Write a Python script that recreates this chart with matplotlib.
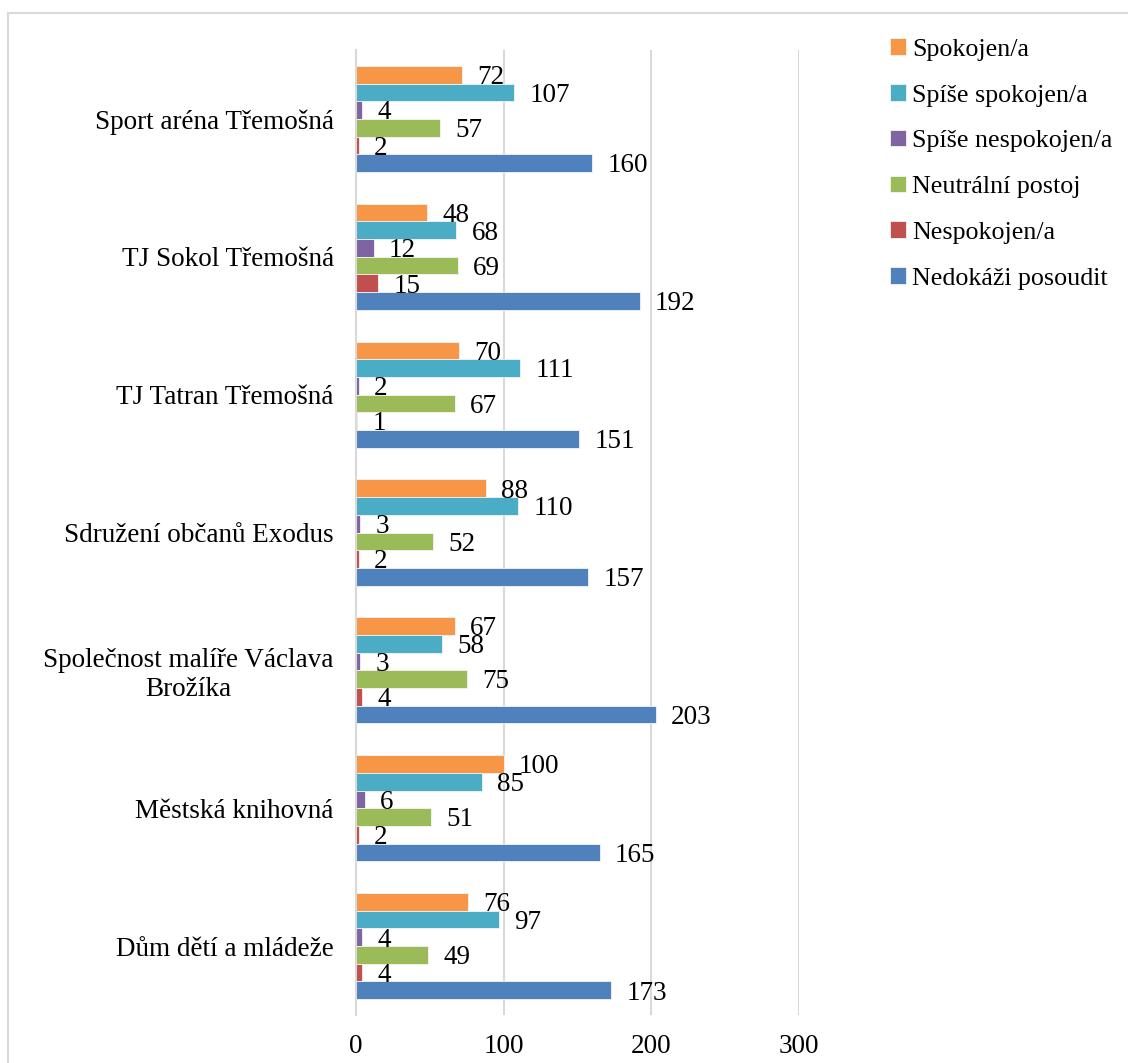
import matplotlib
matplotlib.use("Agg")
import matplotlib.pyplot as plt
import numpy as np
from matplotlib.patches import Rectangle

plt.rcParams['font.family'] = ['Liberation Serif', 'DejaVu Serif']

categories = ["Sport aréna Třemošná", "TJ Sokol Třemošná", "TJ Tatran Třemošná",
              "Sdružení občanů Exodus", "Společnost malíře Václava\nBrožíka",
              "Městská knihovná", "Dům dětí a mládeže"]
series_names = ["Spokojen/a", "Spíše spokojen/a", "Spíše nespokojen/a",
                "Neutrální postoj", "Nespokojen/a", "Nedokáži posoudit"]
spokojen = [72, 48, 70, 88, 67, 100, 76]
spise_spokojen = [107, 68, 111, 110, 58, 85, 97]
spise_nespokojen = [4, 12, 2, 3, 3, 6, 4]
neutralni = [57, 69, 67, 52, 75, 51, 49]
nespokojen = [2, 15, 1, 2, 4, 2, 4]
nedokazi = [160, 192, 151, 157, 203, 165, 173]
colors = ["#F79646", "#4BACC6", "#8064A2", "#9BBB59", "#C0504D", "#4F81BD"]
xticks = [0, 100, 200, 300]

all_series = [spokojen, spise_spokojen, spise_nespokojen, neutralni, nespokojen, nedokazi]

fig = plt.figure(figsize=(11.28, 10.63), dpi=100)
ax = fig.add_axes([356/1128, 1-1015/1063, (799-356)/1128, (1015-50)/1063])

n = len(all_series)
h = 0.77 / n
y = np.arange(len(categories))
handles = []
for k, (vals, c, name) in enumerate(zip(all_series, colors, series_names)):
    pos = y - 0.385 + h*(k+0.5)
    b = ax.barh(pos, vals, height=h, color=c, edgecolor='#f4f4f4', linewidth=0.6, label=name)
    handles.append(b)
    for p, v in zip(pos, vals):
        ax.annotate(str(v), (v, p), xytext=(11, -2), textcoords='offset points',
                    ha='left', va='center', fontsize=19.5, color='black')

ax.set_ylim(len(categories)-0.5, -0.5)
ax.set_xlim(0, 300)
ax.set_xticks(xticks)
ax.set_xticklabels([str(t) for t in xticks], fontsize=19.5)
ax.set_yticks(y)
ax.set_yticklabels(categories, fontsize=19.5, multialignment='center')
ax.tick_params(axis='both', length=0, pad=16)
ax.tick_params(axis='x', pad=14)
for s in ['top', 'right', 'bottom']:
    ax.spines[s].set_visible(False)
ax.spines['left'].set_color('#d9d9d9')
ax.spines['left'].set_linewidth(1.5)
ax.xaxis.grid(True, color='#d9d9d9', linewidth=1.5)
ax.set_axisbelow(True)

leg = fig.legend(handles=handles, labels=series_names, loc='upper left',
                 bbox_to_anchor=(880/1128, 1-28/1063), frameon=False,
                 fontsize=18.7, handlelength=0.6, handleheight=0.6,
                 handletextpad=0.25, labelspacing=0.9, borderaxespad=0)

fig.patches.append(Rectangle((8/1128, -0.1), 1.2, 1-13/1063+0.1, transform=fig.transFigure,
                             fill=False, edgecolor='#d9d9d9', linewidth=1.5))

fig.savefig("out.png", dpi=100)
